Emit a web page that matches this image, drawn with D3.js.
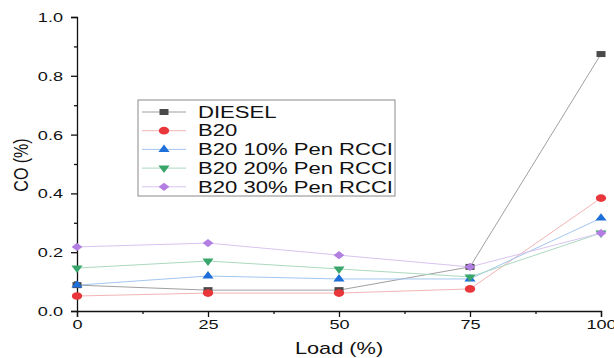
<!DOCTYPE html>
<html><head><meta charset="utf-8">
<script src="https://cdn.jsdelivr.net/npm/d3@7"></script>
<style>body{margin:0;background:#fff}svg{display:block}text{font-family:"Liberation Sans",Arial,sans-serif;fill:#111}</style>
</head><body>
<svg id="c" width="614" height="358"></svg>
<script>
const loads = [0, 25, 50, 75, 100];
const diesel = [0.088, 0.071, 0.071, 0.150, 0.874];
const b20 = [0.051, 0.061, 0.061, 0.075, 0.384];
const pen10 = [0.088, 0.119, 0.109, 0.109, 0.316];
const pen20 = [0.146, 0.170, 0.143, 0.116, 0.265];
const pen30 = [0.218, 0.231, 0.190, 0.150, 0.265];
const seriesNames = ["DIESEL", "B20", "B20 10% Pen RCCI", "B20 20% Pen RCCI", "B20 30% Pen RCCI"];
const xTicks = [0, 25, 50, 75, 100];
const yTicks = [0, 0.2, 0.4, 0.6, 0.8, 1.0];

const SX = 1.38; // horizontal stretch of the reference picture

const series = [
  {name: seriesNames[0], vals: diesel, sym: d3.symbolSquare, size: 36, sx: 1.5, rot: 0, fill: "#4a4a4a", line: "#a0a0a0"},
  {name: seriesNames[1], vals: b20, sym: d3.symbolCircle, size: 46, sx: 1.35, rot: 0, fill: "#e8363a", line: "#f2b4b6"},
  {name: seriesNames[2], vals: pen10, sym: d3.symbolTriangle, size: 32, sx: 1.3, rot: 0, fill: "#1e6fd8", line: "#a3c6ef"},
  {name: seriesNames[3], vals: pen20, sym: d3.symbolTriangle, size: 32, sx: 1.3, rot: 180, fill: "#38a66a", line: "#abd9bf"},
  {name: seriesNames[4], vals: pen30, sym: d3.symbolSquare, size: 34, sx: 1.3, rot: 45, fill: "#b27ee2", line: "#d8c4f0"}
];

const svg = d3.select("#c");
const x = d3.scaleLinear().domain([0, 100]).range([77, 601]);
const y = d3.scaleLinear().domain([0, 1]).range([311, 17]);

// axes
const gx = svg.append("g").attr("transform", "translate(0,311)")
  .call(d3.axisBottom(x).tickValues(xTicks).tickSize(6).tickPadding(0).tickFormat(d3.format("d")));
gx.selectAll("text").attr("font-size", 12.5).attr("dy", null).attr("y", 18)
  .attr("transform", `scale(${SX + 0.07},1)`)
  .style("font-family", "Liberation Sans, Arial, sans-serif");
svg.append("g").attr("transform", "translate(0,311)")
  .call(d3.axisBottom(x).tickValues([12.5, 37.5, 62.5, 87.5]).tickSize(3).tickFormat(""))
  .select(".domain").remove();
const gy = svg.append("g").attr("transform", "translate(77,0)")
  .call(d3.axisLeft(y).tickValues(yTicks).tickSize(6).tickFormat(d3.format(".1f")));
gy.selectAll("text").attr("font-size", 12.5).attr("x", -14 / (SX + 0.07)).attr("dy", "0.36em")
  .attr("transform", `scale(${SX + 0.07},1)`)
  .style("font-family", "Liberation Sans, Arial, sans-serif");
svg.append("g").attr("transform", "translate(77,0)")
  .call(d3.axisLeft(y).tickValues([0.1, 0.3, 0.5, 0.7, 0.9]).tickSize(3).tickFormat(""))
  .select(".domain").remove();
svg.selectAll(".domain, .tick line").attr("stroke", "#111").attr("stroke-width", 1.3);

svg.append("text").attr("transform", `translate(339,354) scale(1.28,1)`).attr("text-anchor", "middle").attr("font-size", 17).text("Load (%)");
svg.append("text").attr("transform", `translate(28,165) scale(1.3,1) rotate(-90)`).attr("text-anchor", "middle").attr("font-size", 16).text("CO (%)");

function markerTransform(s, px, py) {
  return `translate(${px},${py}) scale(${s.sx},1) rotate(${s.rot})`;
}

const line = d3.line().x((d, i) => x(loads[i])).y(d => y(d));
series.forEach(s => {
  svg.append("path").attr("d", line(s.vals)).attr("fill", "none").attr("stroke", s.line).attr("stroke-width", 1);
});
series.forEach(s => {
  svg.append("g").selectAll("path").data(s.vals).join("path")
    .attr("d", d3.symbol(s.sym, s.size)())
    .attr("transform", (d, i) => markerTransform(s, x(loads[i]), y(d)))
    .attr("fill", s.fill);
});

// legend
const lg = svg.append("g");
lg.append("rect").attr("x", 138).attr("y", 100).attr("width", 257).attr("height", 96)
  .attr("fill", "#fff").attr("stroke", "#8a8a8a").attr("stroke-width", 1);
series.forEach((s, i) => {
  const yy = 112 + i * 18.7;
  lg.append("line").attr("x1", 142).attr("x2", 186).attr("y1", yy).attr("y2", yy).attr("stroke", s.line).attr("stroke-width", 1);
  lg.append("path").attr("d", d3.symbol(s.sym, s.size)()).attr("transform", markerTransform(s, 164, yy)).attr("fill", s.fill);
  lg.append("text").attr("transform", `translate(198,${yy}) scale(${SX},1)`).attr("dy", "0.36em").attr("font-size", 16).text(s.name);
});
</script>
</body></html>
